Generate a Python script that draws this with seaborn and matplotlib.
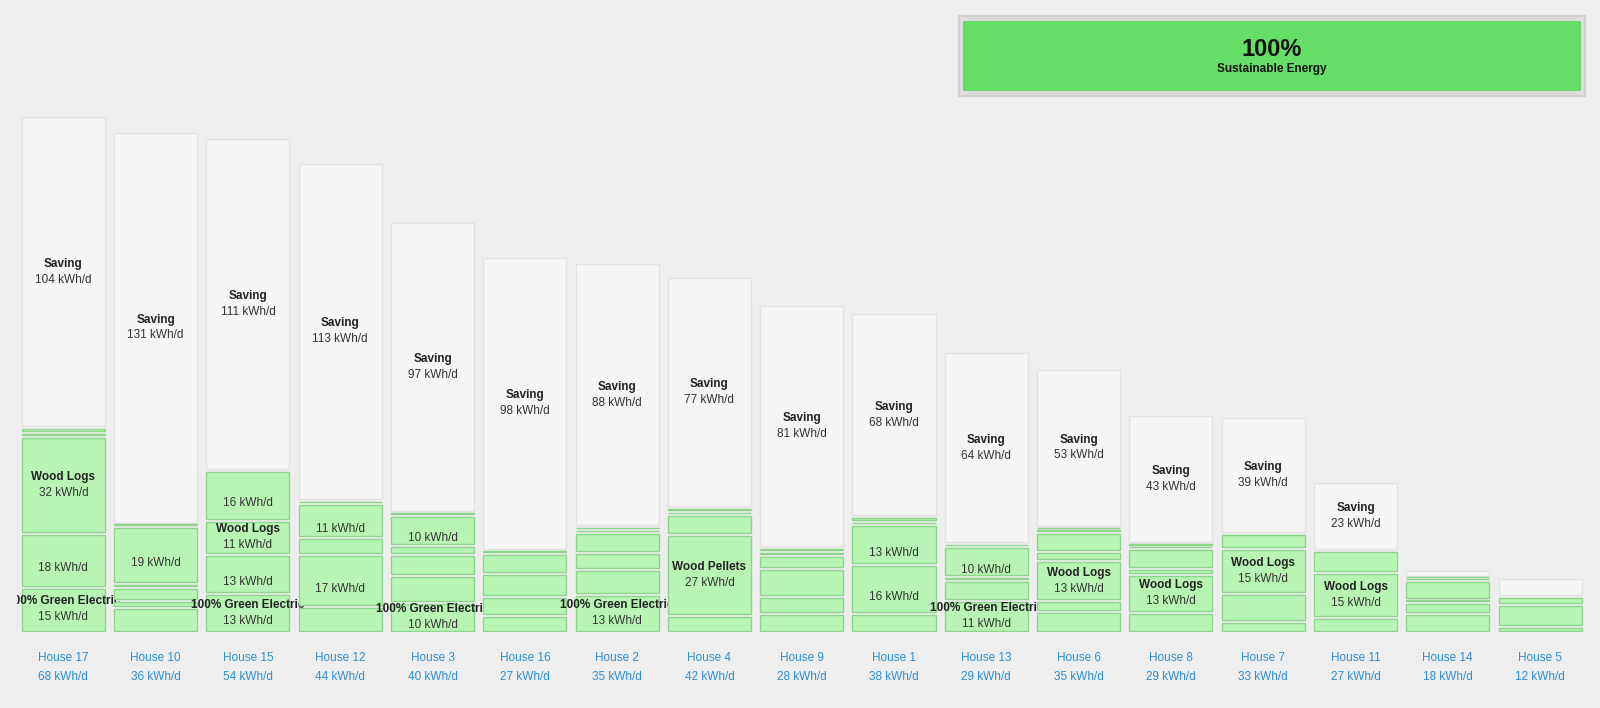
import numpy as np
import matplotlib.pyplot as plt
import seaborn as sns

# houses sorted as in the chart, left to right
houses = ['House 17', 'House 10', 'House 15', 'House 12', 'House 3', 'House 16',
          'House 2', 'House 4', 'House 9', 'House 1', 'House 13', 'House 6',
          'House 8', 'House 7', 'House 11', 'House 14', 'House 5']

# green (supplied) segments per house, bottom to top, kWh/d
green_values = [
    [15, 18, 32.1, 1.5, 1.5],
    [8.2, 2.4, 4.2, 1.5, 19, 0.7],
    [12.8, 13.2, 11.3, 16.4],
    [8.6, 17.1, 5.8, 11.2, 1.3],
    [9.9, 8.8, 7.0, 3.2, 10.1, 0.8],
    [5.6, 6.2, 7.8, 6.6, 1.0],
    [12.6, 8.1, 5.8, 6.6, 1.0, 1.0],
    [5.6, 26.9, 6.6, 1.2, 1.3],
    [6.2, 5.5, 9.4, 4.4, 1.3, 1.3],
    [6.2, 16.3, 13.3, 1.2, 1.4],
    [10.6, 6.5, 1.4, 9.9, 1.0],
    [6.8, 3.7, 13.2, 3.1, 6.4, 0.9, 0.9],
    [6.6, 12.6, 2.1, 6.5, 0.8, 0.8],
    [3.6, 9.2, 15.0, 5.0],
    [4.9, 15.1, 7.1],
    [6.3, 3.7, 1.0, 6.1, 0.6, 0.6],
    [1.7, 7.5, 2.8],
]
GE = '100% Green Electric'
green_names = [
    [GE, '', 'Wood Logs', '', ''],
    ['', '', '', '', '', ''],
    [GE, '', 'Wood Logs', ''],
    ['', '', '', '', ''],
    [GE, '', '', '', '', ''],
    ['', '', '', '', ''],
    [GE, '', '', '', '', ''],
    ['', 'Wood Pellets', '', '', ''],
    ['', '', '', '', '', ''],
    ['', '', '', '', ''],
    [GE, '', '', '', ''],
    ['', '', 'Wood Logs', '', '', '', ''],
    ['', 'Wood Logs', '', '', '', ''],
    ['', '', 'Wood Logs', ''],
    ['', 'Wood Logs', ''],
    ['', '', '', '', '', ''],
    ['', '', ''],
]
saving_values = [104, 131, 111, 112.6, 97, 98, 88, 77, 81, 68, 64, 53, 43, 39, 23, 2.4, 6.1]
sustainable_pct = 100

BG = '#eeeeee'
GREEN = '#b8f5b5'
GREEN_EDGE = '#8ed68b'
SAVE = '#f5f5f5'
SAVE_EDGE = '#e2e2e2'
BLUE = '#2b8fd6'

sns.set_theme(style='white')
plt.rcParams['font.family'] = ['Liberation Sans', 'DejaVu Sans']

fig = plt.figure(figsize=(16, 7.08), dpi=100, facecolor=BG)
ax = fig.add_axes([17 / 1600, 76 / 708, 1583 / 1600, 632 / 708])
ax.set_facecolor(BG)

GAP = 0.5      # trimmed off each end of a segment so the stack shows gaps
MIN_H = 0.15   # tiny segments still show up as a line
LABEL_MIN = 9.5

green_totals = [sum(v) for v in green_values]

# saving block sits on top of the green stack
sns.barplot(x=houses, y=[max(s - 2 * GAP, MIN_H) for s in saving_values],
            bottom=[t + GAP for t in green_totals], order=houses,
            color=SAVE, saturation=1, edgecolor=SAVE_EDGE, linewidth=1,
            width=0.9, errorbar=None, ax=ax, zorder=5)

for i, (vals, names) in enumerate(zip(green_values, green_names)):
    base = np.concatenate([[0], np.cumsum(vals)[:-1]])
    z = 10 + i
    ax.bar([i] * len(vals), [max(v - 2 * GAP, MIN_H) for v in vals], bottom=base + GAP,
           width=0.9, color=GREEN, edgecolor=GREEN_EDGE, linewidth=1, zorder=z)
    for b, v, n in zip(base, vals, names):
        if v < LABEL_MIN:
            continue
        mid = b + v / 2
        ax.annotate(f'{v:.0f} kWh/d', (i, mid), xytext=(0, -8), textcoords='offset pixels',
                    ha='center', va='center', fontsize=8.5, color='#333333',
                    zorder=z + 0.5, annotation_clip=False, clip_on=True)
        if n:
            ax.annotate(n, (i, mid), xytext=(0, 8), textcoords='offset pixels',
                        ha='center', va='center', fontsize=8.5, fontweight='bold',
                        color='#222222', zorder=z + 0.5, annotation_clip=False, clip_on=True)

    s = saving_values[i]
    if s >= LABEL_MIN:
        mid = green_totals[i] + s / 2
        ax.annotate('Saving', (i, mid), xytext=(0, 8), textcoords='offset pixels',
                    ha='center', va='center', fontsize=8.5, fontweight='bold', color='#222222', zorder=6)
        ax.annotate(f'{s:.0f} kWh/d', (i, mid), xytext=(0, -8), textcoords='offset pixels',
                    ha='center', va='center', fontsize=8.5, color='#333333', zorder=6)

    # house name and supplied total under each bar
    ax.annotate(houses[i], (i, 0), xytext=(0, -26), textcoords='offset pixels',
                ha='center', va='center', fontsize=8.5, color=BLUE, annotation_clip=False)
    ax.annotate(f'{green_totals[i]:.0f} kWh/d', (i, 0), xytext=(0, -45), textcoords='offset pixels',
                ha='center', va='center', fontsize=8.5, color=BLUE, annotation_clip=False)

ax.set_xlim(-0.502, 16.649)
ax.set_ylim(0, 632 / 3)
ax.set_xticks([])
ax.set_yticks([])
ax.set_xlabel('')
ax.set_ylabel('')
sns.despine(ax=ax, left=True, bottom=True)

# overall sustainable share box
ax2 = fig.add_axes([959 / 1600, 1 - 96 / 708, 626 / 1600, 80 / 708])
ax2.set_facecolor('#dddddd')
ax2.barh([0], [sustainable_pct], height=1, left=0, color='#66dd66', edgecolor='none')
ax2.set_xlim(-4 / 6.18, 100 + 4 / 6.18)
ax2.set_ylim(-0.5 - 5 / 70, 0.5 + 5 / 70)
ax2.set_xticks([])
ax2.set_yticks([])
for sp in ax2.spines.values():
    sp.set_color('#d2d2d2')
    sp.set_linewidth(1.5)
ax2.annotate(f'{sustainable_pct}%', (50, 0), xytext=(0, 6), textcoords='offset pixels',
             ha='center', va='center', fontsize=17, fontweight='bold', color='#111111')
ax2.annotate('Sustainable Energy', (50, 0), xytext=(0, -13), textcoords='offset pixels',
             ha='center', va='center', fontsize=8.5, fontweight='bold', color='#111111')

fig.savefig('out.png', dpi=100, facecolor=BG)
